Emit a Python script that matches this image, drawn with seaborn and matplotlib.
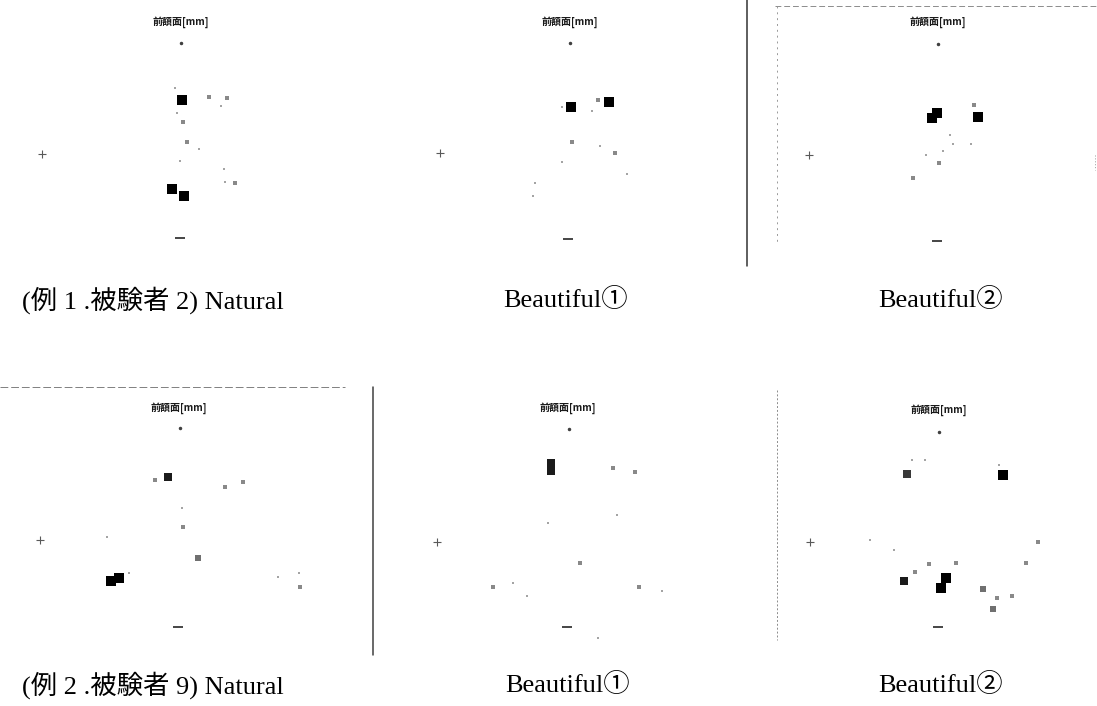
import numpy as np
import pandas as pd
import matplotlib
matplotlib.use("Agg")
import matplotlib.pyplot as plt
from matplotlib.lines import Line2D
import seaborn as sns

sns.set_theme(style="white")
plt.rcParams["font.family"] = ["Liberation Serif", "Noto Sans CJK JP", "DejaVu Sans"]

# ---- data: gaze fixations on the frontal plane [mm], (x, y, duration weight) ----
panel_titles = ["前額面[mm]"] * 6
captions = [
    "(例 1 .被験者 2) Natural", "Beautiful①", "Beautiful②",
    "(例 2 .被験者 9) Natural", "Beautiful①", "Beautiful②",
]

s1_natural_x = [1, -6, 28, 46, 40, 2, 6, 18, -1, -9, 3, 54, 44, 43, -4]
s1_natural_y = [41, 53, 44, 43, 35, 19, -1, -8, -20, -48, -55, -42, -41, -28, 28]
s1_natural_w = [9, 1, 2, 2, 1, 2, 2, 1, 1, 10, 9, 2, 1, 1, 1]

s1_beauty1_x = [1, 39, 28, -8, 22, 2, 45, -35, -37, 30, 57, -8]
s1_beauty1_y = [34, 39, 41, 34, 30, -1, -12, -42, -55, -5, -33, -21]
s1_beauty1_w = [10, 7, 2, 1, 1, 2, 2, 1, 1, 1, 1, 1]

s1_beauty2_x = [-6, -1, 40, 36, 1, -25, 12, 15, 5, -12, 33]
s1_beauty2_y = [24, 29, 25, 37, -21, -36, 7, -2, -9, -13, -2]
s1_beauty2_w = [10, 9, 7, 2, 2, 2, 1, 1, 1, 1, 1]

s9_natural_x = [-11, -24, 46, 64, 3, 4, -72, 19, -68, -60, 99, 120, 121, -50]
s9_natural_y = [51, 48, 41, 46, 20, 1, -9, -30, -53, -50, -49, -45, -59, -45]
s9_natural_w = [6, 2, 2, 2, 1, 2, 1, 3, 10, 9, 1, 1, 2, 1]

s9_beauty1_x = [-17, -17, 45, 67, 49, 12, -75, -55, -41, 71, 94, 30, -20]
s9_beauty1_y = [65, 57, 60, 56, 13, -35, -59, -55, -68, -59, -63, -110, 5]
s9_beauty1_w = [6, 6, 2, 2, 1, 2, 2, 1, 1, 2, 1, 1, 1]

s9_beauty2_x = [-27, -14, -32, 64, 60, -69, 99, 87, -10, 17, -24, -35, 7, 2, 44, 58, 73, 54, -45]
s9_beauty2_y = [70, 70, 56, 55, 65, -10, -12, -33, -34, -33, -42, -51, -48, -58, -59, -68, -66, -79, -20]
s9_beauty2_w = [1, 1, 5, 8, 1, 1, 2, 2, 2, 2, 2, 6, 7, 7, 3, 2, 2, 3, 1]

# reference landmarks on each plane: top, bottom, left
landmark_x = [[0, -1, -139], [0, -2, -130], [0, -1, -129],
              [1, -1, -139], [1, -1, -131], [0, -1, -129]]
landmark_y = [[98, -97, -13], [98, -98, -12], [98, -99, -13],
              [100, -99, -12], [99, -99, -14], [98, -97, -12]]

series = [
    (s1_natural_x, s1_natural_y, s1_natural_w),
    (s1_beauty1_x, s1_beauty1_y, s1_beauty1_w),
    (s1_beauty2_x, s1_beauty2_y, s1_beauty2_w),
    (s9_natural_x, s9_natural_y, s9_natural_w),
    (s9_beauty1_x, s9_beauty1_y, s9_beauty1_w),
    (s9_beauty2_x, s9_beauty2_y, s9_beauty2_w),
]

# ---- layout (pixels, origin top-left) ----
W, H = 1097, 706
fig = plt.figure(figsize=(W / 100, H / 100), dpi=100)
fig.patch.set_facecolor("white")

boxes = [  # x0, x1, y0, y1, cx, cy
    (0, 370, 0, 270, 181, 141),
    (375, 745, 0, 270, 570, 141),
    (752, 1097, 0, 270, 938, 142),
    (0, 370, 385, 660, 179, 528),
    (378, 748, 385, 660, 568, 528),
    (752, 1097, 385, 660, 939, 530),
]
caption_pos = [(22, 300, "left"), (566, 300, "center"), (941, 300, "center"),
               (22, 685, "left"), (568, 685, "center"), (941, 685, "center")]

for i, (x0, x1, y0, y1, cx, cy) in enumerate(boxes):
    ax = fig.add_axes([x0 / W, 1 - y1 / H, (x1 - x0) / W, (y1 - y0) / H])
    ax.set_xlim(x0 - cx, x1 - cx)
    ax.set_ylim(cy - y1, cy - y0)
    ax.set_axis_off()

    xs, ys, ws = series[i]
    df = pd.DataFrame({"x": xs, "y": ys, "w": ws})
    sns.scatterplot(data=df, x="x", y="y", hue="w", size="w",
                    palette="Greys", hue_norm=(-4, 7), sizes=(3, 75),
                    size_norm=(1, 12), marker="s", linewidth=0,
                    legend=False, ax=ax)

    lx, ly = landmark_x[i], landmark_y[i]
    ax.plot(lx[0], ly[0], marker=".", color="0.25", markersize=3)
    ax.plot(lx[1], ly[1], marker="_", color="0.15", markersize=7, mew=1.2)
    ax.plot(lx[2], ly[2], marker="+", color="0.35", markersize=6, mew=0.8)

    ax.text(0, cy - y0 - (22 if i < 3 else 23 + (cy - 528)), panel_titles[i],
            ha="center", va="center", fontsize=7.2, fontweight="bold",
            family=["Noto Sans CJK JP", "DejaVu Sans"], color="0.1")

    tx, ty, ha = caption_pos[i]
    fig.text(tx / W, 1 - ty / H, captions[i], ha=ha, va="center",
             fontsize=19, color="black",
             family=["Liberation Serif", "Noto Sans CJK JP", "DejaVu Sans"])


def frame(xa, ya, xb, yb, **kw):
    fig.add_artist(Line2D([xa / W, xb / W], [1 - ya / H, 1 - yb / H],
                          transform=fig.transFigure, **kw))


# panel frame edges
frame(747, 0, 747, 266, color="0.2", lw=1.1)
frame(373, 387, 373, 655, color="0.25", lw=1.1)
frame(775, 6, 1097, 6, color="0.55", lw=0.7, ls=(0, (6, 3)))
frame(777, 6, 777, 245, color="0.6", lw=0.7, ls=(0, (2, 4)))
frame(1095, 155, 1095, 170, color="0.6", lw=0.7, ls=(0, (1, 2)))
frame(0, 387, 345, 387, color="0.5", lw=0.7, ls=(0, (8, 3)))
frame(777, 390, 777, 640, color="0.55", lw=0.7, ls=(0, (2, 2)))

fig.savefig("out.png", dpi=100, facecolor="white")
